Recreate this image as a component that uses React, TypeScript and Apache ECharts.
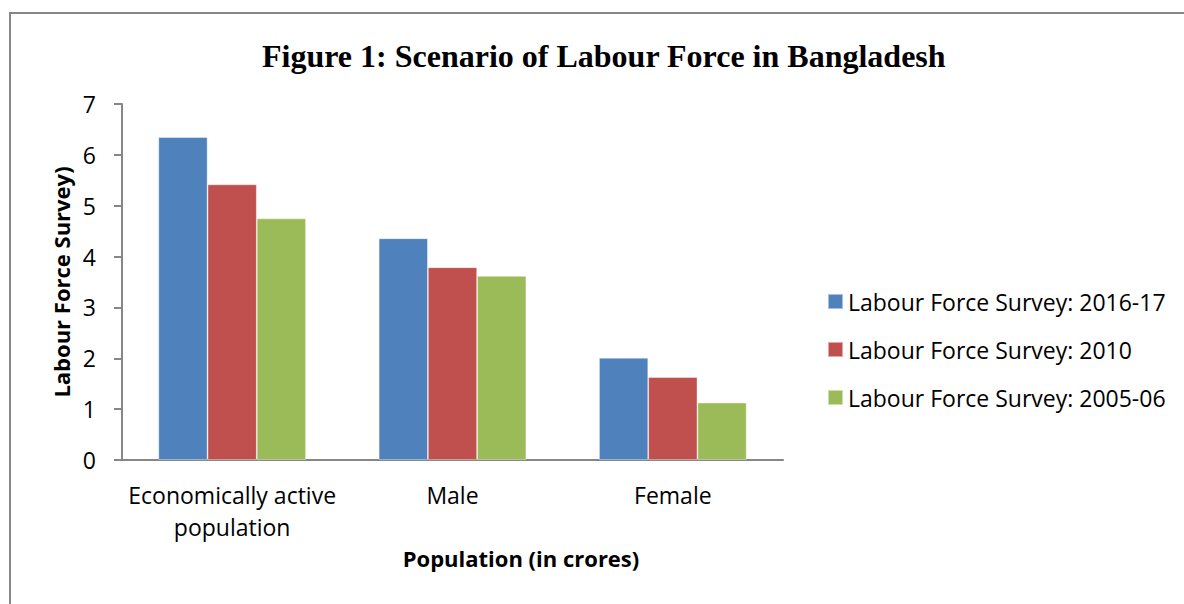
import React, { useEffect, useRef } from "react";
import * as echarts from "echarts";

const categories = ["Economically active\npopulation", "Male", "Female"];
const seriesNames = [
  "Labour Force Survey: 2016-17",
  "Labour Force Survey: 2010",
  "Labour Force Survey: 2005-06",
];
const values2016 = [6.35, 4.36, 2.01];
const values2010 = [5.42, 3.79, 1.63];
const values2005 = [4.75, 3.62, 1.13];
const colors = ["#4F81BD", "#C0504D", "#9BBB59"];
const yTicks = { min: 0, max: 7, interval: 1 };

const FONT = "'Open Sans', Lato, sans-serif";

export default function App() {
  const ref = useRef<HTMLDivElement>(null);
  useEffect(() => {
    const chart = echarts.init(ref.current!, null, { renderer: "svg" });
    const data = [values2016, values2010, values2005];
    chart.setOption({
      animation: false,
      title: {
        text: "Figure 1: Scenario of Labour Force in Bangladesh",
        left: 257,
        top: 35,
        textStyle: {
          fontFamily: "'Liberation Serif', 'Times New Roman', serif",
          fontWeight: "bold",
          fontSize: 32,
          color: "#000",
        },
      },
      legend: {
        orient: "vertical",
        left: 822,
        top: 285,
        itemWidth: 15,
        itemHeight: 15,
        itemGap: 25,
        icon: "rect",
        textStyle: { fontFamily: FONT, fontSize: 23, color: "#000", lineHeight: 23 },
        data: seriesNames,
      },
      grid: { left: 122, top: 104, right: 401, bottom: 144, containLabel: false },
      xAxis: {
        type: "category",
        data: categories,
        axisLine: { lineStyle: { color: "#868686", width: 2 } },
        axisTick: { show: false },
        axisLabel: {
          interval: 0,
          fontFamily: FONT,
          fontSize: 23,
          color: "#000",
          lineHeight: 32,
          margin: 19,
        },
      },
      yAxis: {
        type: "value",
        min: yTicks.min,
        max: yTicks.max,
        interval: yTicks.interval,
        name: "Labour Force Survey)",
        nameLocation: "middle",
        nameGap: 49,
        nameTextStyle: { fontFamily: FONT, fontSize: 22, fontWeight: "bold", color: "#000" },
        axisLine: { show: true, lineStyle: { color: "#868686", width: 2 } },
        axisTick: { show: true, length: 8, lineStyle: { color: "#868686", width: 2 } },
        splitLine: { show: false },
        axisLabel: { fontFamily: FONT, fontSize: 23, color: "#000", margin: 26 },
      },
      series: seriesNames.map((name, i) => ({
        name,
        type: "bar",
        data: data[i],
        barGap: "0%",
        barCategoryGap: "33%",
        itemStyle: { color: colors[i], borderColor: "rgba(255,255,255,0.5)", borderWidth: 0.8 },
      })),
      graphic: [
        {
          type: "rect",
          shape: { x: 10, y: 13, width: 1300, height: 800 },
          style: { fill: "none", stroke: "#868686", lineWidth: 2 },
          silent: true,
        },
        {
          type: "text",
          x: 521,
          y: 558,
          style: {
            text: "Population (in crores)",
            fontFamily: FONT,
            fontSize: 22,
            fontWeight: "bold",
            fill: "#000",
            align: "center",
            verticalAlign: "middle",
          },
        },
      ],
    });
    return () => chart.dispose();
  }, []);
  return (
    <div
      ref={ref}
      style={{ position: "absolute", left: 0, top: 0, width: 1184, height: 604 }}
    />
  );
}
